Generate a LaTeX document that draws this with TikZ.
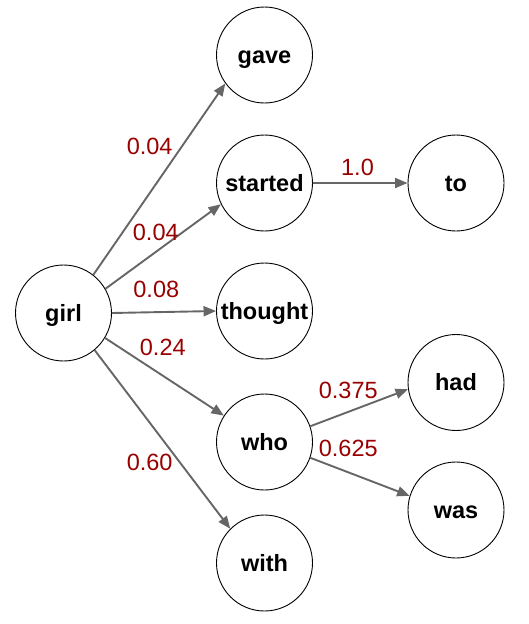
\documentclass[tikz,border=0pt]{standalone}
\usepackage{fontspec}
\setmainfont{Liberation Sans}
\usepackage{tikz}
\usetikzlibrary{arrows.meta}
\usepackage{xcolor}

\begin{document}
\begin{tikzpicture}[x=1pt,y=-1pt,>={Triangle[length=12.5pt,width=10pt]},
  word/.style={circle,draw=black,line width=0.9pt,minimum size=96pt,inner sep=0pt,
    font=\fontsize{23.5}{28}\selectfont\bfseries,text height=16pt,text depth=0pt},
  prob/.style={text=red!60!black,font=\fontsize{23.5}{28}\selectfont,inner sep=0pt},
  link/.style={->,draw=black!60,fill=black!60,line width=1.9pt}]
\useasboundingbox (0,0) rectangle (528,624);
% words
\node[word] (girl) at (63.5,313) {girl};
\node[word] (gave) at (264.5,55) {gave};
\node[word] (started) at (264.5,183) {started};
\node[word] (thought) at (264.5,311) {thought};
\node[word] (who) at (264.5,442) {who};
\node[word] (with) at (264.5,563) {with};
\node[word] (to) at (456,183) {to};
\node[word] (had) at (456,382.5) {had};
\node[word] (was) at (456,510) {was};
% transitions
\draw[link] (girl.52) -- (gave.216);
\draw[link] (girl.30) -- (started.206);
\draw[link] (girl.0) -- (thought.180);
\draw[link] (girl.-31) -- (who.147);
\draw[link] (girl.-50) -- (with.135);
\draw[link] (started.0) -- (to.180);
\draw[link] (who.19) -- (had.188);
\draw[link] (who.-19) -- (was.163);
% probabilities
\node[prob] (pgave) at (149.7,146) {0.04};
\node[prob] (pstarted) at (155.8,232.3) {0.04};
\node[prob] (pthought) at (156.3,289.7) {0.08};
\node[prob] (pwho) at (162.8,347.5) {0.24};
\node[prob] (pwith) at (149.7,462.5) {0.60};
\node[prob] (pto) at (357.5,167.5) {1.0};
\node[prob] (phad) at (348.3,390) {0.375};
\node[prob] (pwas) at (348.3,448.3) {0.625};
\end{tikzpicture}
\end{document}
